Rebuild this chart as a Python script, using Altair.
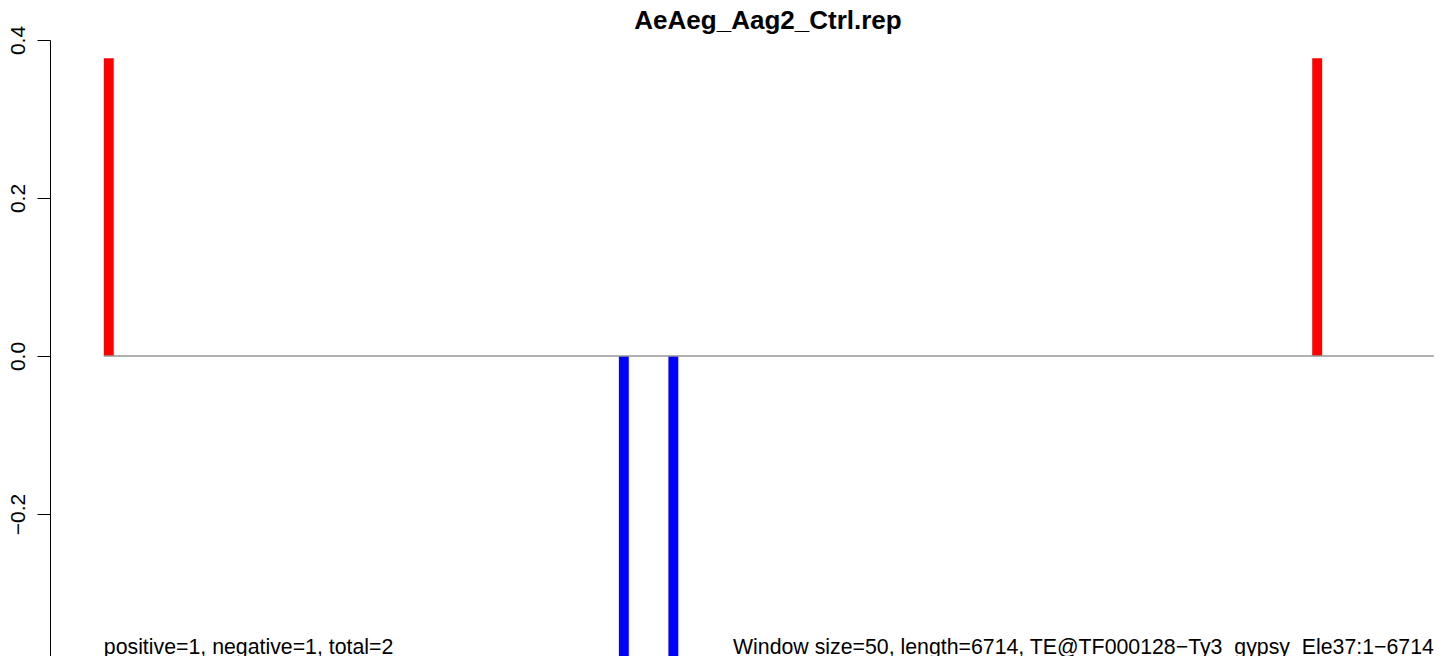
import altair as alt
import pandas as pd

# ---- data ----
window_start = [0, 2600, 2850, 6100]
window_end = [50, 2650, 2900, 6150]
signal = [0.377, -0.38, -0.38, 0.377]
strand = ["positive", "negative", "negative", "positive"]

seq_length = 6714
y_ticks = [-0.4, -0.2, 0.0, 0.2, 0.4]

title_text = "AeAeg_Aag2_Ctrl.rep"
left_note = "positive=1, negative=1, total=2"
right_note = "Window size=50, length=6714, TE@TF000128\u2212Ty3_gypsy_Ele37:1\u22126714"

FONT = "Liberation Sans"

bars_df = pd.DataFrame({
    "start": window_start,
    "end": window_end,
    "signal": signal,
    "base": [0.0] * len(signal),
    "strand": strand,
})
zero_df = pd.DataFrame({"start": [0], "end": [seq_length], "y": [0.0]})
left_df = pd.DataFrame({"x": [0], "label": [left_note]})
right_df = pd.DataFrame({"x": [seq_length], "label": [right_note]})
title_df = pd.DataFrame({"label": [title_text]})

x_scale = alt.Scale(domain=[-271.6, 6724.9], nice=False, zero=False)
y_scale = alt.Scale(domain=[-0.3797, 0.4], nice=False, zero=False)

y_axis = alt.Axis(
    values=y_ticks,
    format=".1f",
    labelAngle=270,
    labelAlign="center",
    labelBaseline="alphabetic",
    labelPadding=13,
    tickSize=13,
    labelFontSize=21,
    labelFont=FONT,
    labelColor="black",
    tickColor="black",
    domainColor="black",
    tickWidth=1,
    domainWidth=1,
    labelOverlap=False,
    labelFlush=False,
    grid=False,
    title=None,
)

bars = alt.Chart(bars_df).mark_bar(clip=True).encode(
    x=alt.X("start:Q", scale=x_scale, axis=None),
    x2="end:Q",
    y=alt.Y("signal:Q", scale=y_scale, axis=y_axis),
    y2="base:Q",
    color=alt.Color(
        "strand:N",
        scale=alt.Scale(domain=["positive", "negative"], range=["#FF0000", "#0000FF"]),
        legend=None,
    ),
)

zero_line = alt.Chart(zero_df).mark_rule(color="#969696", strokeWidth=1.6).encode(
    x=alt.X("start:Q", scale=x_scale, axis=None),
    x2="end:Q",
    y=alt.Y("y:Q", scale=y_scale, title=None),
)

left_text = alt.Chart(left_df).mark_text(
    align="left", baseline="alphabetic", fontSize=21.3, font=FONT, color="black"
).encode(
    x=alt.X("x:Q", scale=x_scale, axis=None),
    y=alt.value(614),
    text="label:N",
)

right_text = alt.Chart(right_df).mark_text(
    align="right", baseline="alphabetic", fontSize=21.3, font=FONT, color="black"
).encode(
    x=alt.X("x:Q", scale=x_scale, axis=None),
    y=alt.value(614),
    text="label:N",
)

title_mark = alt.Chart(title_df).mark_text(
    align="center", baseline="alphabetic", fontSize=26, font=FONT,
    fontWeight="bold", color="black"
).encode(
    x=alt.value(718),
    y=alt.value(-11),
    text="label:N",
)

chart = alt.layer(bars, zero_line, left_text, right_text, title_mark).properties(
    width=1386,
    height=616,
    padding={"left": 42, "top": 32, "right": 0, "bottom": 0},
    autosize=alt.AutoSizeParams(type="none"),
    background="white",
).configure_view(stroke=None)

chart.save("out.html", embed_options={"renderer": "svg", "actions": False})
